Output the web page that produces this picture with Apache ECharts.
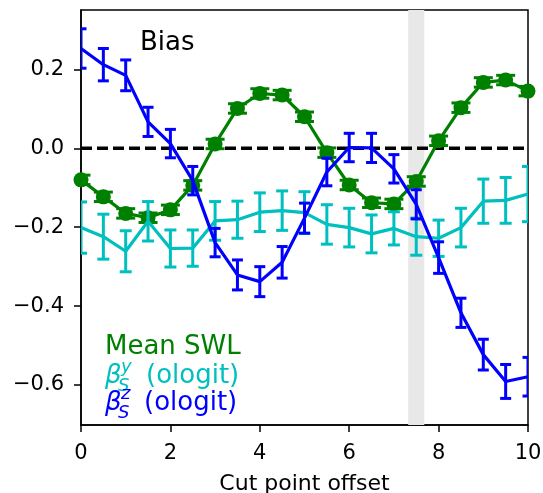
<!DOCTYPE html>
<html>
<head>
<meta charset="utf-8">
<script src="https://cdn.jsdelivr.net/npm/echarts@6/dist/echarts.min.js"></script>
<style>
html,body{margin:0;padding:0;background:#fff;}
#chart{width:543px;height:493px;}
</style>
</head>
<body>
<div id="chart"></div>
<script>
// ---- data ----
const xs = [0,0.5,1,1.5,2,2.5,3,3.5,4,4.5,5,5.5,6,6.5,7,7.5,8,8.5,9,9.5,10];
const swlMean = [-0.080,-0.123,-0.165,-0.176,-0.156,-0.094,0.011,0.101,0.139,0.135,0.080,-0.011,-0.093,-0.138,-0.141,-0.084,0.019,0.103,0.167,0.173,0.145];
const swlErr  = [0.012,0.012,0.012,0.012,0.012,0.012,0.012,0.012,0.012,0.012,0.012,0.012,0.012,0.012,0.012,0.012,0.012,0.012,0.012,0.012,0.012];
const betaYMean = [-0.201,-0.224,-0.261,-0.185,-0.254,-0.253,-0.184,-0.181,-0.162,-0.158,-0.163,-0.193,-0.201,-0.217,-0.203,-0.224,-0.228,-0.201,-0.134,-0.132,-0.116];
const betaYErr  = [0.065,0.057,0.052,0.050,0.047,0.046,0.049,0.047,0.049,0.050,0.053,0.050,0.049,0.048,0.042,0.047,0.046,0.049,0.056,0.058,0.070];
const betaZMean = [0.253,0.212,0.185,0.067,0.012,-0.082,-0.239,-0.321,-0.338,-0.289,-0.177,-0.060,0.002,0.001,-0.052,-0.142,-0.277,-0.417,-0.523,-0.591,-0.579];
const betaZErr  = [0.050,0.041,0.039,0.037,0.036,0.036,0.036,0.038,0.038,0.040,0.038,0.035,0.036,0.037,0.036,0.037,0.040,0.037,0.039,0.043,0.049];
const yTicks = [-0.6,-0.4,-0.2,0.0,0.2];
const xTicks = [0,2,4,6,8,10];
const bandRange = [7.32, 7.68];
const refLine = [[0,0],[10,0]];

const GREEN = '#008000', CYAN = '#00bfbf', BLUE = '#0000ff';
const FONT = 'DejaVu Sans';

function pts(mean){ return xs.map((x,i)=>[x, mean[i]]); }
function errPts(mean, err){ return xs.map((x,i)=>[x, mean[i]-err[i], mean[i]+err[i]]); }
function errRender(capHalf, color){
  return function(params, api){
    const x = api.value(0), lo = api.value(1), hi = api.value(2);
    const p1 = api.coord([x, hi]), p2 = api.coord([x, lo]);
    const st = {stroke: color, lineWidth: 3, fill: null};
    return {type:'group', children:[
      {type:'line', shape:{x1:p1[0], y1:p1[1], x2:p2[0], y2:p2[1]}, style:st},
      {type:'line', shape:{x1:p1[0]-capHalf, y1:p1[1], x2:p1[0]+capHalf, y2:p1[1]}, style:st},
      {type:'line', shape:{x1:p2[0]-capHalf, y1:p2[1], x2:p2[0]+capHalf, y2:p2[1]}, style:st}
    ]};
  };
}
function errSeries(mean, err, capHalf, color, z){
  return {type:'custom', data: errPts(mean, err), renderItem: errRender(capHalf, color),
          encode:{x:0, y:[1,2]}, clip:true, z:z, silent:true};
}
function lineSeries(mean, color, z, marker){
  return {type:'line', data: pts(mean), z:z, silent:true,
    showSymbol: !!marker, symbol: marker ? 'circle' : 'none', symbolSize: 15,
    itemStyle:{color:color}, lineStyle:{color:color, width:3.2}, clip:true};
}
function fmt(v){ return v.toFixed(1).replace('-', '\u2212'); }

const chart = echarts.init(document.getElementById('chart'), null, {renderer:'canvas'});
chart.setOption({
  animation:false,
  backgroundColor:'#fff',
  grid:{left:81, right:15, top:10, bottom:68, containLabel:false, outerBoundsMode:'none',
        show:true, borderColor:'#000', borderWidth:1.5, backgroundColor:'transparent'},
  xAxis:{type:'value', min:0, max:10, interval:2,
    name:'Cut point offset', nameLocation:'middle', nameGap:48,
    nameTextStyle:{fontFamily:FONT, fontSize:22, color:'#000'},
    axisLine:{show:true, onZero:false, lineStyle:{color:'#000', width:1.5}},
    axisTick:{show:true, inside:false, length:7, lineStyle:{color:'#000', width:1.5}},
    axisLabel:{fontFamily:FONT, fontSize:21, color:'#000', margin:18},
    splitLine:{show:false}},
  yAxis:{type:'value', min:-0.7014, max:0.3506,
    axisLine:{show:true, onZero:false, lineStyle:{color:'#000', width:1.5}},
    axisTick:{show:true, inside:false, length:7, customValues:yTicks, lineStyle:{color:'#000', width:1.5}},
    axisLabel:{fontFamily:FONT, fontSize:21, color:'#000', margin:17, customValues:yTicks, formatter:fmt},
    splitLine:{show:false}},
  series:[
    {type:'line', data: refLine, z:2, silent:true, showSymbol:false, symbol:'none',
      lineStyle:{color:'#000', width:3.5, type:[11,5]},
      markArea:{silent:true, itemStyle:{color:'#e8e8e8'}, data:[[{xAxis:bandRange[0]},{xAxis:bandRange[1]}]]}},
    lineSeries(swlMean, GREEN, 3, true),
    errSeries(swlMean, swlErr, 9.5, GREEN, 3),
    lineSeries(betaYMean, CYAN, 4, false),
    errSeries(betaYMean, betaYErr, 6, CYAN, 4),
    lineSeries(betaZMean, BLUE, 5, false),
    errSeries(betaZMean, betaZErr, 5.5, BLUE, 5)
  ],
  graphic:[
    {type:'text', x:140, y:43, z:10, style:{text:'Bias', font:'26px "DejaVu Sans"', fill:'#000', verticalAlign:'middle', align:'left'}},
    {type:'text', x:105, y:347.5, z:10, style:{text:'Mean SWL', font:'26px "DejaVu Sans"', fill:GREEN, verticalAlign:'middle', align:'left'}},
    {type:'text', x:105, y:376, z:10, style:{text:'\u03b2', font:'italic 26px "DejaVu Sans"', fill:CYAN, verticalAlign:'middle', align:'left'}},
    {type:'text', x:121, y:367, z:10, style:{text:'y', font:'italic 18px "DejaVu Sans"', fill:CYAN, verticalAlign:'middle', align:'left'}},
    {type:'text', x:118, y:386, z:10, style:{text:'S', font:'italic 18px "DejaVu Sans"', fill:CYAN, verticalAlign:'middle', align:'left'}},
    {type:'text', x:146, y:376, z:10, style:{text:'(ologit)', font:'26px "DejaVu Sans"', fill:CYAN, verticalAlign:'middle', align:'left'}},
    {type:'text', x:105, y:403, z:10, style:{text:'\u03b2', font:'italic 26px "DejaVu Sans"', fill:BLUE, verticalAlign:'middle', align:'left'}},
    {type:'text', x:121, y:394, z:10, style:{text:'z', font:'italic 18px "DejaVu Sans"', fill:BLUE, verticalAlign:'middle', align:'left'}},
    {type:'text', x:118, y:413, z:10, style:{text:'S', font:'italic 18px "DejaVu Sans"', fill:BLUE, verticalAlign:'middle', align:'left'}},
    {type:'text', x:144, y:403, z:10, style:{text:'(ologit)', font:'26px "DejaVu Sans"', fill:BLUE, verticalAlign:'middle', align:'left'}}
  ]
});
</script>
</body>
</html>
